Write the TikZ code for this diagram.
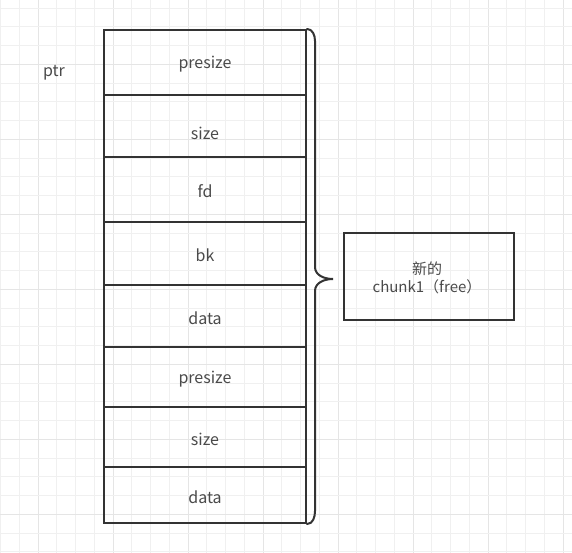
\documentclass[tikz,border=0pt]{standalone}
\usepackage{fontspec}
\setmainfont{Noto Sans CJK SC}
\usetikzlibrary{positioning}

\definecolor{inkgray}{HTML}{333333}
\definecolor{txtgray}{HTML}{4A4A4A}
\definecolor{gridminor}{HTML}{F0F0F0}
\definecolor{gridmajor}{HTML}{E5E5E5}

\begin{document}
\begin{tikzpicture}[x=1pt,y=-1pt,
 cell/.style={draw=inkgray,line width=2pt,minimum width=202pt,inner sep=0pt},
 lbl/.style={font=\fontsize{16}{19}\selectfont,text=txtgray},
 boxlbl/.style={font=\fontsize{15}{19}\selectfont,text=txtgray},
 brace/.style={draw=inkgray,line width=2pt,line cap=round}]
\useasboundingbox (0,0) rectangle (572,553);
\fill[white] (0,0) rectangle (572,553);
% background grid
\foreach \i in {0,...,30} {
  \pgfmathparse{mod(\i,4)==2 ? "gridmajor" : "gridminor"}
  \draw[\pgfmathresult,line width=0.9pt] ({0.5+\i*18.75},0) -- ++(0,553);
}
\foreach \i in {0,...,29} {
  \pgfmathparse{mod(\i+1,4)==0 ? "gridmajor" : "gridminor"}
  \draw[\pgfmathresult,line width=0.9pt] (0,{8+\i*18.75}) -- ++(572,0);
}
% chunk cells
\foreach \t/\b/\n in {30/95/1,95/157/2,157/222/3,222/285/4,285/347/5,347/407/6,407/467/7,467/523/8}
  \node[cell,minimum height={(\b-\t)*1pt}] (c\n) at (205,{(\t+\b)/2}) {};
\node[lbl] (l1) at (205,64) {presize};
\node[lbl] (l2) at (205,133) {size};
\node[lbl] (l3) at (205,191) {fd};
\node[lbl] (l4) at (205,255) {bk};
\node[lbl] (l5) at (205,318) {data};
\node[lbl] (l6) at (205,379) {presize};
\node[lbl] (l7) at (205,439) {size};
\node[lbl] (l8) at (205,497) {data};
\node[lbl] (ptr) at (54,73) {ptr};
% brace
\coordinate (tip) at (333,279);
\draw[brace] (c1.north east) to[out=0,in=90] (315,41) -- (315,267)
  to[out=-90,in=180] (tip) to[out=180,in=90] (315,291) -- (315,511)
  to[out=-90,in=0] (c8.south east);
% new free chunk
\node[draw=inkgray,line width=2pt,minimum width=170pt,minimum height=87pt,
  inner sep=0pt] (fre) at (429,276) {};
\node[boxlbl,align=center,text width=160pt] (frelbl) at (427,278)
  {新的\\[-1pt]chunk1（free）};
\end{tikzpicture}
\end{document}
